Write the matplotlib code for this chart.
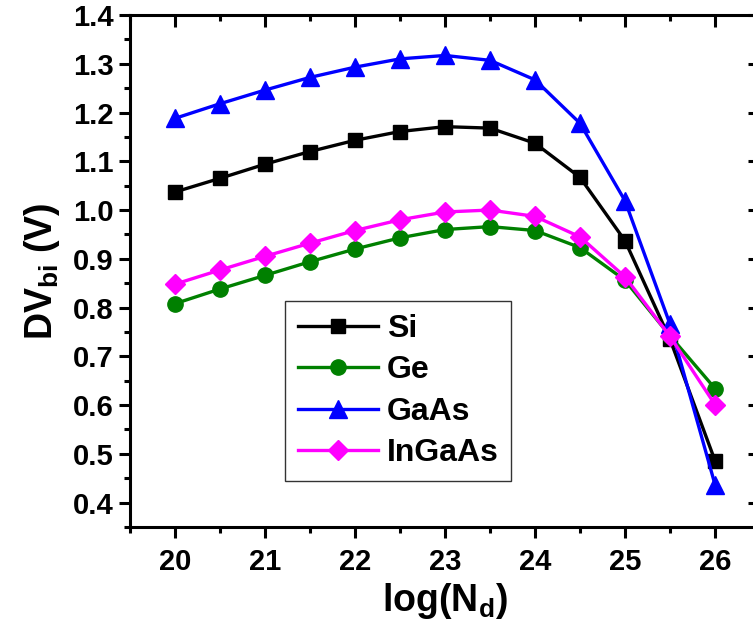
import matplotlib
matplotlib.use('Agg')
import matplotlib.pyplot as plt
from matplotlib.ticker import MultipleLocator

# data
log_nd = [20, 20.5, 21, 21.5, 22, 22.5, 23, 23.5, 24, 24.5, 25, 25.5, 26]
si = [1.037, 1.065, 1.094, 1.120, 1.143, 1.161, 1.171, 1.168, 1.137, 1.067, 0.937, 0.735, 0.486]
ge = [0.808, 0.838, 0.866, 0.894, 0.920, 0.943, 0.960, 0.966, 0.958, 0.923, 0.856, 0.742, 0.634]
gaas = [1.188, 1.218, 1.246, 1.272, 1.293, 1.310, 1.317, 1.307, 1.267, 1.178, 1.019, 0.766, 0.437]
ingaas = [0.848, 0.877, 0.905, 0.932, 0.958, 0.980, 0.996, 1.000, 0.987, 0.945, 0.863, 0.741, 0.601]

plt.rcParams['font.family'] = ['Liberation Sans', 'DejaVu Sans']
plt.rcParams['font.weight'] = 'bold'
plt.rcParams['mathtext.fontset'] = 'custom'
plt.rcParams['mathtext.rm'] = 'Liberation Sans:bold'
plt.rcParams['mathtext.it'] = 'Liberation Sans:bold'
plt.rcParams['mathtext.bf'] = 'Liberation Sans:bold'

fig = plt.figure(figsize=(7.53, 6.35), dpi=100)
ax = fig.add_axes([0.1726, 0.1701, 0.8367, 0.8063])

lw = 2.4
ax.plot(log_nd, si, color='black', marker='s', ms=10, lw=lw, label='Si')
ax.plot(log_nd, ge, color='#008000', marker='o', ms=11, lw=lw, label='Ge')
ax.plot(log_nd, gaas, color='#0000FF', marker='^', ms=13, lw=lw, label='GaAs')
ax.plot(log_nd, ingaas, color='#FF00FF', marker='D', ms=10, lw=lw, label='InGaAs')

ax.set_xlim(19.5, 26.5)
ax.set_ylim(0.35, 1.4)
ax.xaxis.set_major_locator(MultipleLocator(1))
ax.xaxis.set_minor_locator(MultipleLocator(0.5))
ax.yaxis.set_major_locator(MultipleLocator(0.1))
ax.yaxis.set_minor_locator(MultipleLocator(0.05))
ax.yaxis.set_major_formatter(plt.FormatStrFormatter('%.1f'))

for s in ax.spines.values():
    s.set_linewidth(2.2)

ax.tick_params(which='major', direction='out', length=8, width=2.2, labelsize=21)
ax.tick_params(which='minor', direction='out', length=4.5, width=2.2)
ax.tick_params(axis='x', which='major', pad=7)
ax.tick_params(axis='y', which='major', pad=3.5)

# inward ticks on top and right
top = ax.secondary_xaxis('top')
top.xaxis.set_major_locator(MultipleLocator(1))
top.xaxis.set_minor_locator(MultipleLocator(0.5))
top.tick_params(which='major', direction='in', length=8.5, width=2.2, labeltop=False)
top.tick_params(which='minor', direction='in', length=4.5, width=2.2)
right = ax.secondary_yaxis('right')
right.yaxis.set_major_locator(MultipleLocator(0.1))
right.yaxis.set_minor_locator(MultipleLocator(0.05))
right.tick_params(which='major', direction='in', length=8.5, width=2.2, labelright=False)
right.tick_params(which='minor', direction='in', length=4.5, width=2.2)

ax.set_xlabel('log(N$_d$)', fontsize=27, fontweight='bold', labelpad=4)
ax.set_ylabel('DV$_{bi}$ (V)', fontsize=27, fontweight='bold', labelpad=8)

leg = ax.legend(loc='upper left', bbox_to_anchor=(0.246, 0.441), borderaxespad=0,
                fontsize=23, frameon=True, fancybox=False, edgecolor='black',
                handlelength=2.5, handletextpad=0.28, labelspacing=0.36,
                borderpad=0.4)
leg.get_frame().set_linewidth(1.0)

fig.savefig('out.png', dpi=100)
